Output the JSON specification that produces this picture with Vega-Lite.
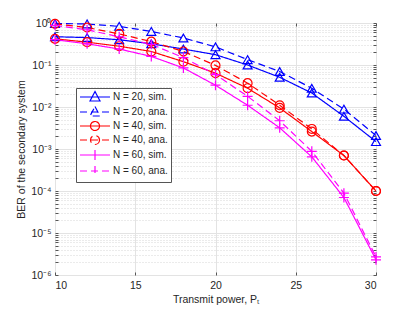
{
  "$schema": "https://vega.github.io/schema/vega-lite/v6.json",
  "autosize": {"type": "none"},
  "padding": {"left": 55, "top": 23, "right": 39, "bottom": 37},
  "width": 321,
  "height": 252,
  "background": "white",
  "config": {
    "font": "Liberation Sans",
    "view": {"stroke": "#808080", "strokeWidth": 1},
    "axis": {"labelColor": "#262626", "titleColor": "#262626", "labelFontSize": 10.5, "titleFontSize": 10.5, "titleFontWeight": "normal", "domainColor": "#808080", "tickColor": "#555555"},
    "legend": {"title": null, "orient": "none", "legendX": 21, "legendY": 65, "symbolSize": 100, "symbolStrokeWidth": 1.2, "symbolFillColor": "transparent", "labelFontSize": 10, "labelColor": "#262626", "labelFont": "Liberation Sans", "rowPadding": 0, "labelOffset": 22, "padding": 3, "strokeColor": "#555555", "fillColor": "white", "symbolOpacity": 1}
  },
  "data": {"values": [
    {"P": 10, "ber": 0.47, "s": "N = 20, sim."},
    {"P": 12, "ber": 0.45, "s": "N = 20, sim."},
    {"P": 14, "ber": 0.40, "s": "N = 20, sim."},
    {"P": 16, "ber": 0.32, "s": "N = 20, sim."},
    {"P": 18, "ber": 0.24, "s": "N = 20, sim."},
    {"P": 20, "ber": 0.176, "s": "N = 20, sim."},
    {"P": 22, "ber": 0.10, "s": "N = 20, sim."},
    {"P": 24, "ber": 0.051, "s": "N = 20, sim."},
    {"P": 26, "ber": 0.0215, "s": "N = 20, sim."},
    {"P": 28, "ber": 0.006, "s": "N = 20, sim."},
    {"P": 30, "ber": 0.0015, "s": "N = 20, sim."},
    {"P": 10, "ber": 0.97, "s": "N = 20, ana."},
    {"P": 12, "ber": 0.95, "s": "N = 20, ana."},
    {"P": 14, "ber": 0.83, "s": "N = 20, ana."},
    {"P": 16, "ber": 0.63, "s": "N = 20, ana."},
    {"P": 18, "ber": 0.44, "s": "N = 20, ana."},
    {"P": 20, "ber": 0.27, "s": "N = 20, ana."},
    {"P": 22, "ber": 0.134, "s": "N = 20, ana."},
    {"P": 24, "ber": 0.07, "s": "N = 20, ana."},
    {"P": 26, "ber": 0.028, "s": "N = 20, ana."},
    {"P": 28, "ber": 0.0089, "s": "N = 20, ana."},
    {"P": 30, "ber": 0.0021, "s": "N = 20, ana."},
    {"P": 10, "ber": 0.42, "s": "N = 40, sim."},
    {"P": 12, "ber": 0.35, "s": "N = 40, sim."},
    {"P": 14, "ber": 0.28, "s": "N = 40, sim."},
    {"P": 16, "ber": 0.21, "s": "N = 40, sim."},
    {"P": 18, "ber": 0.12, "s": "N = 40, sim."},
    {"P": 20, "ber": 0.064, "s": "N = 40, sim."},
    {"P": 22, "ber": 0.028, "s": "N = 40, sim."},
    {"P": 24, "ber": 0.0095, "s": "N = 40, sim."},
    {"P": 26, "ber": 0.0026, "s": "N = 40, sim."},
    {"P": 28, "ber": 0.0007, "s": "N = 40, sim."},
    {"P": 30, "ber": 0.0001, "s": "N = 40, sim."},
    {"P": 10, "ber": 0.95, "s": "N = 40, ana."},
    {"P": 12, "ber": 0.78, "s": "N = 40, ana."},
    {"P": 14, "ber": 0.55, "s": "N = 40, ana."},
    {"P": 16, "ber": 0.36, "s": "N = 40, ana."},
    {"P": 18, "ber": 0.21, "s": "N = 40, ana."},
    {"P": 20, "ber": 0.098, "s": "N = 40, ana."},
    {"P": 22, "ber": 0.037, "s": "N = 40, ana."},
    {"P": 24, "ber": 0.011, "s": "N = 40, ana."},
    {"P": 26, "ber": 0.003, "s": "N = 40, ana."},
    {"P": 28, "ber": 0.0007, "s": "N = 40, ana."},
    {"P": 30, "ber": 0.0001, "s": "N = 40, ana."},
    {"P": 10, "ber": 0.40, "s": "N = 60, sim."},
    {"P": 12, "ber": 0.32, "s": "N = 60, sim."},
    {"P": 14, "ber": 0.24, "s": "N = 60, sim."},
    {"P": 16, "ber": 0.16, "s": "N = 60, sim."},
    {"P": 18, "ber": 0.085, "s": "N = 60, sim."},
    {"P": 20, "ber": 0.033, "s": "N = 60, sim."},
    {"P": 22, "ber": 0.011, "s": "N = 60, sim."},
    {"P": 24, "ber": 0.0032, "s": "N = 60, sim."},
    {"P": 26, "ber": 0.00065, "s": "N = 60, sim."},
    {"P": 28, "ber": 0.00007, "s": "N = 60, sim."},
    {"P": 30, "ber": 0.0000023, "s": "N = 60, sim."},
    {"P": 10, "ber": 0.88, "s": "N = 60, ana."},
    {"P": 12, "ber": 0.69, "s": "N = 60, ana."},
    {"P": 14, "ber": 0.47, "s": "N = 60, ana."},
    {"P": 16, "ber": 0.31, "s": "N = 60, ana."},
    {"P": 18, "ber": 0.15, "s": "N = 60, ana."},
    {"P": 20, "ber": 0.059, "s": "N = 60, ana."},
    {"P": 22, "ber": 0.018, "s": "N = 60, ana."},
    {"P": 24, "ber": 0.0047, "s": "N = 60, ana."},
    {"P": 26, "ber": 0.00088, "s": "N = 60, ana."},
    {"P": 28, "ber": 0.000089, "s": "N = 60, ana."},
    {"P": 30, "ber": 0.0000027, "s": "N = 60, ana."}
  ]},
  "resolve": {"axis": {"x": "independent", "y": "independent"}},
  "layer": [
    {
      "mark": {"type": "line", "strokeWidth": 1.2, "clip": true},
      "encoding": {
        "x": {"field": "P", "type": "quantitative",
          "scale": {"domain": [10, 30], "nice": false, "zero": false},
          "axis": {"orient": "bottom", "values": [10, 15, 20, 25, 30], "title": "Transmit power, Pₜ", "grid": true, "gridColor": "#e3e3e3", "tickSize": -3, "labelPadding": 8, "titlePadding": 4, "domain": false}},
        "y": {"field": "ber", "type": "quantitative",
          "scale": {"type": "log", "domain": [0.000001, 1], "nice": false},
          "axis": {"orient": "left", "title": "BER of the secondary system", "titlePadding": 4,
            "values": [0.000001,0.000002,0.000003,0.000004,0.000005,0.000006,0.000007,0.000008,0.000009,0.00001,0.00002,0.00003,0.00004,0.00005,0.00006,0.00007,0.00008,0.00009,0.0001,0.0002,0.0003,0.0004,0.0005,0.0006,0.0007,0.0008,0.0009,0.001,0.002,0.003,0.004,0.005,0.006,0.007,0.008,0.009,0.01,0.02,0.03,0.04,0.05,0.06,0.07,0.08,0.09,0.1,0.2,0.3,0.4,0.5,0.6,0.7,0.8,0.9,1],
            "labelExpr": "abs(log(datum.value)/LN10 - round(log(datum.value)/LN10)) < 0.01 ? '10' + ['⁰','⁻¹','⁻²','⁻³','⁻⁴','⁻⁵','⁻⁶'][-round(log(datum.value)/LN10)] : ''",
            "labelOverlap": false, "labelBound": false, "labelFlush": false,
            "grid": true,
            "gridColor": {"condition": {"test": "abs(log(datum.value)/LN10 - round(log(datum.value)/LN10)) < 0.01", "value": "#e3e3e3"}, "value": "#d6d6d6"},
            "gridDash": {"condition": {"test": "abs(log(datum.value)/LN10 - round(log(datum.value)/LN10)) < 0.01", "value": []}, "value": [1, 2]},
            "tickSize": -3, "labelPadding": 7, "domain": false}},
        "color": {"field": "s", "type": "nominal",
          "scale": {"domain": ["N = 20, sim.", "N = 20, ana.", "N = 40, sim.", "N = 40, ana.", "N = 60, sim.", "N = 60, ana."],
            "range": ["#0000ff", "#0000ff", "#ff0000", "#ff0000", "#ff00ff", "#ff00ff"]}},
        "strokeDash": {"field": "s", "type": "nominal",
          "scale": {"domain": ["N = 20, sim.", "N = 20, ana.", "N = 40, sim.", "N = 40, ana.", "N = 60, sim.", "N = 60, ana."],
            "range": [[1, 0], [7, 4], [1, 0], [7, 4], [1, 0], [7, 4]]}}
      }
    },
    {
      "transform": [{"filter": "indexof(datum.s, 'N = 20') >= 0"}],
      "mark": {"type": "point", "shape": "triangle-up", "size": 80, "filled": false, "strokeWidth": 1.2, "opacity": 1},
      "encoding": {
        "x": {"field": "P", "type": "quantitative", "axis": null},
        "y": {"field": "ber", "type": "quantitative", "axis": null},
        "color": {"field": "s", "type": "nominal"}
      }
    },
    {
      "transform": [{"filter": "indexof(datum.s, 'N = 40') >= 0"}],
      "mark": {"type": "point", "shape": "circle", "size": 80, "filled": false, "strokeWidth": 1.2, "opacity": 1},
      "encoding": {
        "x": {"field": "P", "type": "quantitative", "axis": null},
        "y": {"field": "ber", "type": "quantitative", "axis": null},
        "color": {"field": "s", "type": "nominal"}
      }
    },
    {
      "transform": [{"filter": "indexof(datum.s, 'N = 60') >= 0"}],
      "mark": {"type": "point", "shape": "M-1,0H1M0,-1V1", "size": 100, "filled": false, "strokeWidth": 1.2, "opacity": 1},
      "encoding": {
        "x": {"field": "P", "type": "quantitative", "axis": null},
        "y": {"field": "ber", "type": "quantitative", "axis": null},
        "color": {"field": "s", "type": "nominal"}
      }
    },
    {
      "mark": {"type": "point", "opacity": 0},
      "encoding": {
        "x": {"field": "P", "type": "quantitative",
          "axis": {"orient": "top", "values": [10, 15, 20, 25, 30], "labels": false, "title": null, "grid": false, "tickSize": -3, "domain": false}},
        "y": {"field": "ber", "type": "quantitative",
          "axis": {"orient": "right", "labels": false, "title": null, "grid": false, "tickSize": -3, "domain": false,
            "values": [0.000001,0.000002,0.000003,0.000004,0.000005,0.000006,0.000007,0.000008,0.000009,0.00001,0.00002,0.00003,0.00004,0.00005,0.00006,0.00007,0.00008,0.00009,0.0001,0.0002,0.0003,0.0004,0.0005,0.0006,0.0007,0.0008,0.0009,0.001,0.002,0.003,0.004,0.005,0.006,0.007,0.008,0.009,0.01,0.02,0.03,0.04,0.05,0.06,0.07,0.08,0.09,0.1,0.2,0.3,0.4,0.5,0.6,0.7,0.8,0.9,1]}}
      }
    },
    {
      "transform": [{"filter": "datum.P > 1000"}],
      "mark": {"type": "point", "filled": false},
      "encoding": {
        "x": {"field": "P", "type": "quantitative", "axis": null},
        "y": {"field": "ber", "type": "quantitative", "axis": null},
        "shape": {"field": "s", "type": "nominal",
          "scale": {"domain": ["N = 20, sim.", "N = 20, ana.", "N = 40, sim.", "N = 40, ana.", "N = 60, sim.", "N = 60, ana."],
            "range": ["M-1,0H5M2,-1.1L3,0.8L1,0.8Z", "M-1,0H5M2,-1.1L3,0.8L1,0.8Z",
              "M-1,0H5M2.9,0A0.9,0.9 0 1,1 1.1,0A0.9,0.9 0 1,1 2.9,0", "M-1,0H5M2.9,0A0.9,0.9 0 1,1 1.1,0A0.9,0.9 0 1,1 2.9,0",
              "M-1,0H5M2,-1V1", "M-1,0H5M2,-1V1"]}},
        "color": {"field": "s", "type": "nominal"},
        "strokeDash": {"field": "s", "type": "nominal"}
      }
    }
  ]
}
